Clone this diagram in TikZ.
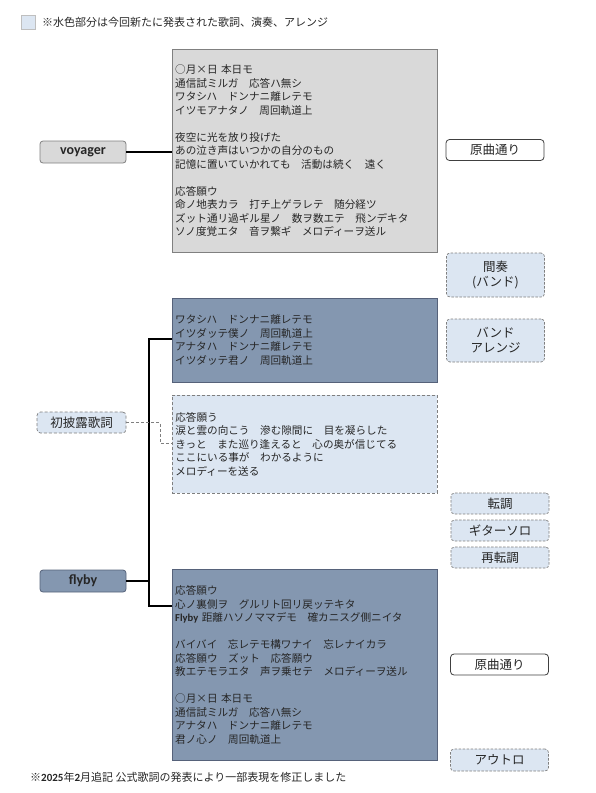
\documentclass[tikz,border=0pt]{standalone}
\usepackage{fontspec}
\setmainfont{Noto Sans CJK JP}
\newfontfamily\latfont{Carlito}
\definecolor{greyfill}{HTML}{D9D9D9}
\definecolor{greyline}{HTML}{808080}
\definecolor{bluefill}{HTML}{8497B0}
\definecolor{blueline}{HTML}{56627A}
\definecolor{newfill}{HTML}{DCE6F2}
\definecolor{newline}{HTML}{7F7F7F}
\definecolor{inkgrey}{HTML}{262626}

\begin{document}
\begin{tikzpicture}[x=1pt, y=-1pt,
  lyricbox/.style={anchor=north west, rectangle, minimum width=265, align=left,
    text width=259, inner xsep=3pt, inner ysep=0pt, text=inkgrey,
    font=\fontsize{10.6}{13.5}\selectfont},
  songbox/.style={rectangle, rounded corners=3pt, minimum width=86, minimum height=22,
    inner sep=0pt, line width=0.8pt, font=\latfont\bfseries\fontsize{14}{16}\selectfont, text=inkgrey},
  tagbox/.style={rectangle, rounded corners=3.5pt, minimum width=98, minimum height=21,
    inner sep=0pt, align=center, text=inkgrey, font=\fontsize{12.5}{15}\selectfont},
  oldtag/.style={tagbox, draw=black!75, fill=white, line width=0.8pt},
  newtag/.style={tagbox, draw=newline, fill=newfill, line width=0.7pt, dash pattern=on 2.5pt off 1.5pt},
  newdash/.style={draw=newline, dash pattern=on 3pt off 2pt}]

  \useasboundingbox (0,0) rectangle (595,793);

  % --- 1. 凡例と注記 ---
  \node[draw=newline!50, fill=newfill, minimum size=14, inner sep=0pt] (legend) at (28.5,22.5) {};
  \node[anchor=west, inner sep=0pt, text=inkgrey, font=\fontsize{11}{12}\selectfont] (legendtxt)
    at (42,22.5) {※水色部分は今回新たに発表された歌詞、演奏、アレンジ};
  \node[anchor=west, inner sep=0pt, text=inkgrey, font=\fontsize{11}{12}\selectfont] (footnote)
    at (30,777) {※{\latfont\bfseries 2025}年{\latfont\bfseries 2}月追記 公式歌詞の発表により一部表現を修正しました};

  % --- 2. 歌詞ブロック ---
  \node[lyricbox, draw=greyline, fill=greyfill, minimum height=203] (voybox) at (172,49) {%
    ○月×日 本日モ\\
    通信試ミルガ　応答ハ無シ\\
    ワタシハ　ドンナニ離レテモ\\
    イツモアナタノ　周回軌道上\\
    ~\\
    夜空に光を放り投げた\\
    あの泣き声はいつかの自分のもの\\
    記憶に置いていかれても　活動は続く　遠く\\
    ~\\
    応答願ウ\\
    命ノ地表カラ　打チ上ゲラレテ　随分経ツ\\
    ズット通リ過ギル星ノ　数ヲ数エテ　飛ンデキタ\\
    ソノ度覚エタ　音ヲ繋ギ　メロディーヲ送ル};

  \node[lyricbox, draw=blueline, fill=bluefill, minimum height=84] (bandbox) at (172,298) {%
    ワタシハ　ドンナニ離レテモ\\
    イツダッテ僕ノ　周回軌道上\\
    アナタハ　ドンナニ離レテモ\\
    イツダッテ君ノ　周回軌道上};

  \node[lyricbox, newdash, fill=newfill, line width=0.7pt, minimum height=98] (newbox) at (172,395) {%
    応答願う\\
    涙と雲の向こう　滲む隙間に　目を凝らした\\
    きっと　また巡り逢えると　心の奥が信じてる\\
    ここにいる事が　わかるように\\
    メロディーを送る};

  \node[lyricbox, draw=blueline, fill=bluefill, minimum height=191] (flybox) at (172,569) {%
    応答願ウ\\
    心ノ裏側ヲ　グルリト回リ戻ッテキタ\\
    {\latfont\bfseries Flyby} 距離ハソノママデモ　確カニスグ側ニイタ\\
    ~\\
    バイバイ　忘レテモ構ワナイ　忘レナイカラ\\
    応答願ウ　ズット　応答願ウ\\
    教エテモラエタ　声ヲ乗セテ　メロディーヲ送ル\\
    ~\\
    ○月×日 本日モ\\
    通信試ミルガ　応答ハ無シ\\
    アナタハ　ドンナニ離レテモ\\
    君ノ心ノ　周回軌道上};

  % --- 3. 左側のラベル ---
  \node[songbox, draw=greyline, fill=greyfill] (voyager) at (83,152) {voyager};
  \node[tagbox, newdash, fill=newfill, line width=0.7pt, minimum width=89] (premiere) at (81.5,422.5) {初披露歌詞};
  \node[songbox, draw=blueline, fill=bluefill] (flyby) at (83,581) {flyby};

  % --- 4. 接続線 ---
  \draw[line width=1.1pt] (voyager.east) -- (voyager.east -| voybox.west);

  \coordinate (busTop) at (149,339);
  \coordinate (busBot) at (149,606);
  \draw[line width=1.1pt] (flyby.east) -- (flyby.east -| busTop);
  \draw[line width=1.1pt] (bandbox.west |- busTop) -- (busTop) -- (busBot) -- (flybox.west |- busBot);

  \coordinate (newTurn) at (160,422.5);
  \draw[newdash, line width=0.8pt] (premiere.east) -- (newTurn) -- (newTurn |- 0,443) -- (newbox.west |- 0,443);

  % --- 5. 右側の演奏メモ ---
  \node[oldtag] (orig1) at (495,150) {原曲通り};
  \node[newtag, minimum height=44] (interlude) at (495.5,275) {間奏\\(バンド)};
  \node[newtag, minimum height=43] (arrange) at (495.5,340.5) {バンド\\アレンジ};
  \node[newtag] (modul) at (500,503.5) {転調};
  \node[newtag] (solo) at (500,530.5) {ギターソロ};
  \node[newtag] (remodul) at (500,557.5) {再転調};
  \node[oldtag] (orig2) at (499.5,664.5) {原曲通り};
  \node[newtag, minimum height=22] (outro) at (499.5,760) {アウトロ};

\end{tikzpicture}
\end{document}
